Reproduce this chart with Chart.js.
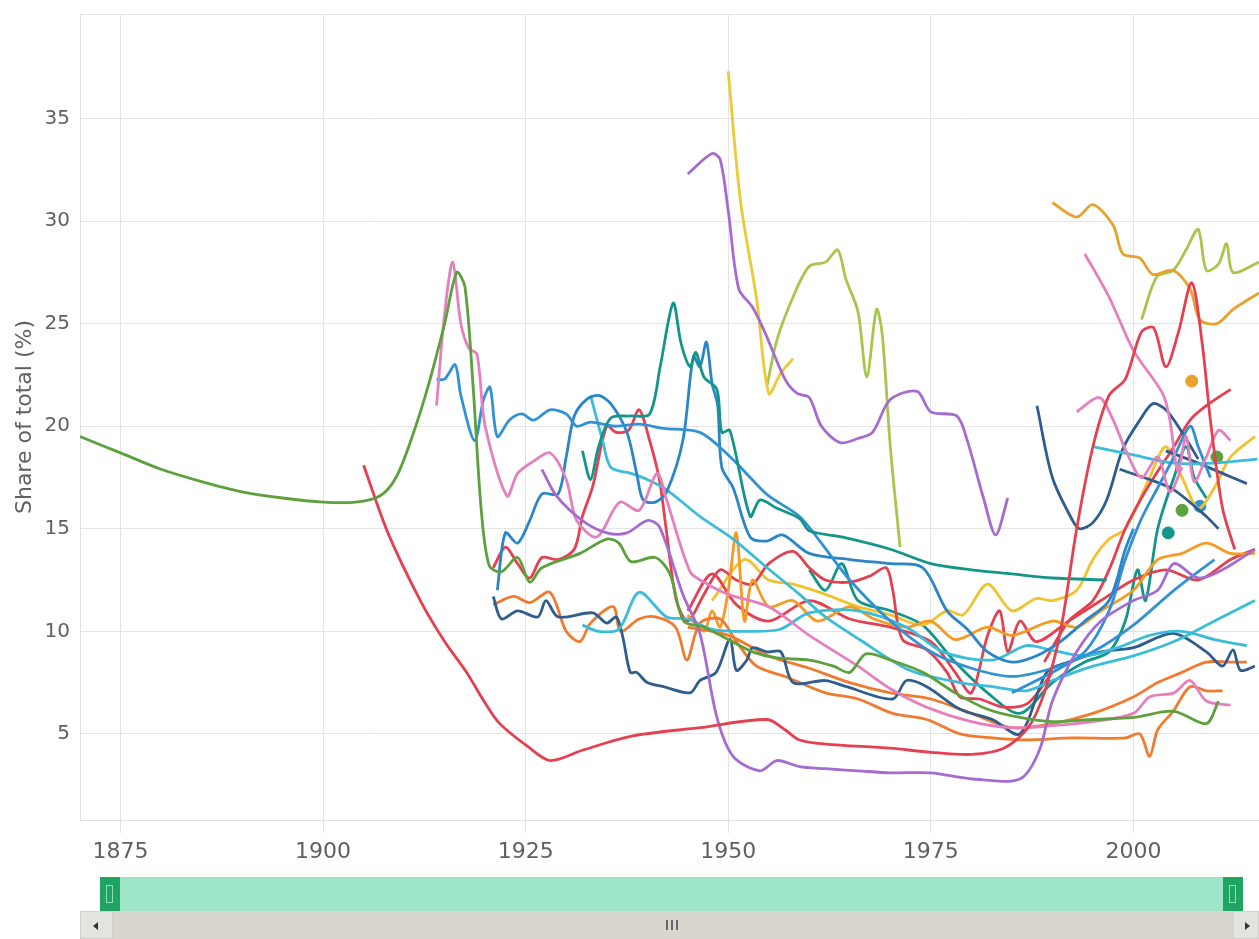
<!DOCTYPE html>
<html>
<head>
<meta charset="utf-8">
<script src="https://cdn.jsdelivr.net/npm/chart.js@4.4.1/dist/chart.umd.min.js"></script>
<style>
  body { margin: 0; background: #fff; font-family: "DejaVu Sans", sans-serif; }
  #wrap { position: relative; width: 1259px; height: 939px; overflow: hidden; }
  #box { position: absolute; left: 0; top: 0; width: 1259px; height: 870px; }
  .nav { position: absolute; left: 100px; top: 877px; width: 1143px; height: 34px; background: #9fe5c7; }
  .handle { position: absolute; top: 877px; width: 20px; height: 34px; background: #1fa462; }
  .handle span { position: absolute; left: 6px; top: 8px; width: 7px; height: 18px; border: 1px solid #8fe0b8; box-sizing: border-box; }
  .track { position: absolute; left: 80px; top: 911px; width: 1179px; height: 28px; background: #d8d6ce; }
  .btn { position: absolute; top: 911px; height: 28px; background: #e3e3df; border: 1px solid #cfcfcb; box-sizing: border-box; }
  .btn i { position: absolute; top: 10px; width: 0; height: 0; border-top: 4px solid transparent; border-bottom: 4px solid transparent; }
  .grip { position: absolute; left: 666px; top: 920px; width: 12px; height: 10px; }
  .grip b { position: absolute; top: 0; width: 2px; height: 10px; background: #666; }
</style>
</head>
<body>
<div id="wrap">
  <div id="box"><canvas id="myChart" width="1259" height="870"></canvas></div>
  <div class="nav"></div>
  <div class="handle" style="left:100px"><span></span></div>
  <div class="handle" style="left:1223px"><span></span></div>
  <div class="track"></div>
  <div class="btn" style="left:80px;width:33px"><i style="left:12px;border-right:5px solid #333"></i></div>
  <div class="btn" style="left:1233px;width:26px"><i style="left:11px;border-left:5px solid #333"></i></div>
  <div class="grip"><b style="left:0"></b><b style="left:5px"></b><b style="left:10px"></b></div>
</div>
<script>
// year / share pairs
var green1 = [[1870,19.5],[1875,18.7],[1880,17.9],[1885,17.3],[1890,16.8],[1895,16.5],[1900,16.3],[1904,16.3],[1907,16.6],[1909,17.5],[1911,19.5],[1913,22],[1915,25],[1916.5,27.5],[1917.5,26.8],[1918.5,22],[1919.5,16],[1920.5,13.2],[1922,12.9],[1924,13.6],[1925.5,12.4],[1927,13.1],[1931.7,13.8],[1935,14.5],[1936.5,14.3],[1938,13.4],[1941,13.6],[1942.8,12.8],[1944.5,10.5],[1947,10.2],[1950,9.6],[1953,9.0],[1956,8.7],[1960,8.6],[1963,8.3],[1965,8.0],[1967,8.9],[1970,8.6],[1974,8.0],[1978,7.0],[1982,6.2],[1986,5.8],[1990,5.6],[1995,5.7],[2000,5.8],[2005,6.1],[2009,5.5],[2010.5,6.6]];
var red1 = [[1905,18.1],[1908,14.8],[1912,11.5],[1915,9.5],[1917.7,8.0],[1920,6.5],[1921.8,5.5],[1925.2,4.4],[1928,3.7],[1932,4.2],[1938.2,4.9],[1946.5,5.3],[1954.8,5.7],[1957,5.2],[1958.8,4.7],[1962,4.5],[1970,4.3],[1975,4.1],[1980,4.0],[1984,4.3],[1987,5.3],[1989,7],[1991,10],[1993,15],[1995,19],[1997,21.5],[1999,22.3],[2001,24.6],[2002.5,24.8],[2004,22.9],[2005.5,24.5],[2007.2,27],[2008.5,24],[2009.5,20.3],[2011,16],[2012.5,14]];
var purple1 = [[1945,32.3],[1948,33.3],[1949,33.0],[1950,30.5],[1951.3,26.7],[1953,25.8],[1954.5,24.6],[1957,22.3],[1958.5,21.6],[1960,21.4],[1961.5,20],[1963.8,19.2],[1966,19.4],[1967.8,19.7],[1970,21.3],[1973.3,21.7],[1975,20.7],[1978.2,20.5],[1979.5,19.3],[1981.5,16.5],[1983,14.7],[1984.5,16.5]];
var purple2 = [[1927,17.9],[1928.8,16.6],[1932,15.4],[1935,14.8],[1937.5,14.8],[1940,15.4],[1941.5,15.1],[1944.4,11.8],[1946.5,9.9],[1948.6,5.8],[1950.6,3.9],[1953.9,3.2],[1956,3.7],[1958.8,3.4],[1962,3.3],[1966,3.2],[1970,3.1],[1975,3.1],[1980.2,2.8],[1986,2.8],[1988.4,4.2],[1990,6.6],[1993,9],[1996,10.5],[2000,11.5],[2003,12],[2005,13.3],[2008,12.6],[2011,13],[2015,14]];
var yellow1 = [[1950,37.3],[1951.5,31],[1953.5,26.2],[1955,21.6],[1956.5,22.6],[1958,23.3]];
var lime1 = [[1954.8,22],[1956,24.2],[1958,26.3],[1960,27.8],[1962,28],[1963.5,28.6],[1964.5,27.2],[1966,25.6],[1967.1,22.4],[1968.3,25.7],[1969,24.5],[1970,19],[1971.2,14.1]];
var gold1 = [[1990,30.9],[1993,30.2],[1995,30.8],[1997.5,29.8],[1998.7,28.4],[2000.8,28.2],[2002.4,27.4],[2004.9,27.6],[2007,26.7],[2008.2,25.2],[2010.3,25],[2012.3,25.7],[2015.5,26.5]];
var lime2 = [[2001,25.2],[2002.9,27.3],[2004.9,27.6],[2006.5,28.6],[2008,29.6],[2009,27.6],[2010.5,27.9],[2011.5,28.9],[2012.3,27.5],[2015.5,28]];
var pink1 = [[1914,21],[1915,25.5],[1916,28],[1917,25],[1918,23.8],[1919,23.5],[1920,20],[1922.7,16.6],[1924,17.7],[1926,18.3],[1928,18.7],[1930,17.4],[1931.3,15.4],[1933.8,14.6],[1936.6,16.3],[1939,15.9],[1941.2,17.7],[1942.4,16.4],[1945.3,12.9],[1947,12.4],[1950,11.8],[1955,11.2],[1960,9.8],[1966,8.3],[1970,7.2],[1974.5,6.3],[1980,5.6],[1985,5.3],[1990,5.4],[1995,5.6],[2000,6.0],[2002,6.8],[2005,7.0],[2007,7.6],[2009,6.6],[2012,6.4]];
var pink2 = [[1994,28.4],[1997,26.3],[2000,23.7],[2003.6,21.6],[2004.5,20.3],[2005.5,17.8],[2006.5,19.5],[2007.5,17.3],[2009,18.5],[2010.5,19.8],[2012,19.3]];
var pink3 = [[1993,20.7],[1995.8,21.4],[1997.5,20.3],[1999.2,18.7],[2001,17.5],[2003,18.5],[2004.5,16.8],[2006,18]];
var teal1 = [[1932,18.8],[1933,17.4],[1934,19],[1935.5,20.4],[1938,20.5],[1940.3,20.6],[1941.6,22.9],[1943.2,26],[1944.2,24],[1945.3,22.9],[1946,23.6],[1947,22.4],[1948.6,21.8],[1949.2,19.7],[1950.2,19.8],[1952.7,15.6],[1953.9,16.4],[1956,16.0],[1958.8,15.5],[1960,14.9],[1964,14.6],[1970,14],[1975,13.3],[1980,13.0],[1985,12.8],[1990,12.6],[1996.7,12.5]];
var blue1 = [[1914,22.3],[1915,22.3],[1916.3,23],[1917,21.5],[1918.7,19.3],[1919.8,21.3],[1920.6,21.9],[1921.5,19.5],[1923,20.3],[1924.5,20.6],[1926,20.3],[1928,20.8],[1930,20.6],[1931.3,20],[1933,20.2],[1936,20.0],[1939,20.1],[1942,19.9],[1946.5,19.7],[1950,18.6],[1952.7,17.5],[1955,16.6],[1958.8,15.6],[1961.3,14.4],[1965,12.5],[1970,10.5],[1975,9],[1980,8.2],[1985,7.8],[1990,8.2],[1995,9.0],[2000,10.3],[2005,12],[2010,13.5]];
var blue2 = [[1921.5,12],[1922.5,14.8],[1924,14.3],[1925.5,15.4],[1927,16.7],[1929,16.7],[1930,18.5],[1931,20.5],[1932.5,21.3],[1934,21.5],[1935.5,21.1],[1937.5,19.7],[1938.7,17.7],[1939.5,16.4],[1941,16.3],[1942.4,16.8],[1944.4,19.3],[1945.7,23.4],[1946.5,22.9],[1947.3,24.1],[1948,22.1],[1948.7,21],[1949.2,18],[1950.6,17],[1952.7,14.6],[1954.7,14.4],[1956.7,14.7],[1960,13.8],[1965,13.5],[1970,13.3],[1974,13.1],[1977,11],[1979.5,10.1],[1982,9],[1985,8.5],[1988,8.8],[1991,9.5],[1994,10.5],[1997,11.5],[1999,14],[2000,15]];
var blue3 = [[1985,7],[1990,8],[1994,9],[1997,11],[1999,13.5],[2001,15.5],[2003,17],[2005,18.5],[2007,20],[2008,19],[2009.5,17.5]];
var cyan1 = [[1933,21.5],[1934.5,19.3],[1935.5,18],[1938,17.7],[1940,17.4],[1942.4,16.9],[1946.5,15.6],[1950.6,14.5],[1954.8,13.1],[1958.8,11.8],[1962,10.7],[1966.2,9.6],[1972.4,8.1],[1978.6,7.5],[1982.6,7.3],[1986.8,7.1],[1990,7.6],[1995,8.3],[2000,8.8],[2005,9.5],[2010,10.5],[2015,11.5]];
var cyan2 = [[1932,10.3],[1934,10],[1936.5,10.1],[1939,11.9],[1942.4,10.7],[1945,10.6],[1948,10.1],[1952.3,10],[1956.4,10.1],[1960,10.9],[1966,11],[1972,10.2],[1976.5,9.0],[1982.6,8.6],[1986.8,9.3],[1989.7,9.1],[1994,8.8],[1998,9.2],[2002,9.8],[2006,10],[2010,9.6],[2014,9.3]];
var cyan3 = [[1995,19],[2000,18.6],[2005,18.2],[2010,18.2],[2015.3,18.4]];
var darkblue1 = [[1921,11.7],[1922,10.6],[1924,11],[1926.5,10.7],[1927.5,11.5],[1929,10.7],[1933.3,10.9],[1935,10.4],[1936.2,10.7],[1937,9.7],[1937.9,8.0],[1938.7,8.0],[1940,7.5],[1942,7.3],[1945.3,7.0],[1946.5,7.6],[1948.5,8.0],[1950.2,9.6],[1951,8.1],[1952.3,8.6],[1953,9.2],[1954.8,9.0],[1956.5,9.0],[1958,7.5],[1962,7.6],[1964.6,7.3],[1970.3,6.7],[1972,7.6],[1974.5,7.3],[1978.6,6.2],[1982.6,5.7],[1986,5.0],[1989.3,8.0],[1992,8.5],[1996,9.0],[2000,9.2],[2004.9,9.9],[2009,9.0],[2011,8.3],[2012.3,9.1],[2013.2,8.1],[2015,8.3]];
var darkblue2 = [[1988.1,21],[1990,17.5],[1992.5,15.4],[1993.4,15.0],[1995,15.3],[1996.7,16.4],[1998.7,18.9],[2000.8,20.3],[2002.4,21.1],[2004,20.8],[2006,19.7],[2008,18.4]];
var darkblue3 = [[1998.3,17.9],[2002,17.4],[2005,16.9],[2009,15.6],[2010.5,15]];
var darkblue4 = [[2004,18.8],[2008,18.2],[2011,17.7],[2014,17.2]];
var orange1 = [[1921,11.3],[1923.5,11.7],[1925.5,11.4],[1928,11.9],[1930,10],[1931.7,9.5],[1933,10.4],[1935.8,11.2],[1936.7,10],[1939,10.6],[1941,10.7],[1943.5,10.2],[1944.9,8.6],[1946.5,10.4],[1949,10.6],[1951,9.5],[1953.5,8.3],[1957,7.8],[1962,7.0],[1966,6.7],[1970.3,6.0],[1974.5,5.7],[1978.6,5.0],[1982.6,4.8],[1986.8,4.7],[1992.5,4.8],[1999,4.8],[2000.8,5.0],[2002,3.9],[2003,5.2],[2004.9,6.1],[2007,7.3],[2009,7.1],[2011,7.1]];
var orange2 = [[1945,10.2],[1950,9.8],[1955,8.8],[1960,8.2],[1965,7.5],[1970,7.0],[1975,6.7],[1980,6.0],[1985,5.3],[1990,5.5],[1995,6.0],[2000,6.8],[2003,7.5],[2006,8.0],[2009,8.5],[2012,8.5],[2014,8.5]];
var orange3 = [[1945,10.8],[1947,10.0],[1948,11],[1949,10.2],[1950,12],[1951,14.8],[1952,10.5],[1953,12.5],[1955,11.2],[1958,11.5],[1961,10.5],[1965,11.2],[1968,10.6],[1972,10.2],[1975,10.5],[1978,9.6],[1982,10.2],[1985,9.8],[1990,10.5],[1993,10.2],[1996,11],[2000,12],[2003,13.5],[2006,13.8],[2009,14.3],[2012,13.8],[2015,13.8]];
var red2 = [[1921,13.1],[1922.5,14.1],[1924,13.3],[1925.5,12.6],[1927,13.6],[1929,13.5],[1931,14.0],[1932,15.6],[1933.3,17.1],[1935,20],[1936.2,19.7],[1937.7,19.8],[1939,20.8],[1940.3,19.3],[1941.5,17.4],[1942.4,14.8],[1943.6,11.5],[1945,10.5],[1947,11.8],[1949,13],[1951,12.5],[1953,12.3],[1955,13.3],[1958,13.9],[1960,13.1],[1962,12.5],[1965,12.4],[1967.5,12.7],[1969.5,13.1],[1970.3,12],[1971.5,9.6],[1974.5,9.1],[1977,8.0],[1978.6,6.8],[1981,6.7],[1984,6.3],[1987,6.5],[1990,8]];
var red3 = [[1989,8.5],[1992,10.5],[1995,11.5],[1997,13],[1999,15],[2001,16.5],[2003,17.8],[2005,19],[2007,20.3],[2009,21],[2012,21.8]];
var red4 = [[1945,11],[1948,12.8],[1951,11.3],[1955,10.5],[1960,11.5],[1965,10.6],[1970,10.2],[1975,9.5],[1978,8],[1980,7],[1982,9.8],[1983.5,11],[1984.5,9],[1986,10.5],[1988,9.5],[1992,10.5],[1996,11.5],[2000,12.5],[2004,13],[2008,12.5],[2012,13.5],[2015,14]];
var yellow2 = [[1948,11.5],[1952,13.5],[1955,12.5],[1958,12.3],[1962,11.8],[1966,11.2],[1970,10.8],[1974,10.3],[1977,11],[1979,10.8],[1982,12.3],[1985,11],[1988,11.6],[1990,11.5],[1993,12],[1995,13.5],[1997,14.5],[1999,15],[2002,17.5],[2004,19],[2006,17.5],[2008,16],[2010,17],[2012,18.5],[2015,19.5]];
var teal2 = [[1960,13],[1962,12],[1964,13.3],[1966,11.5],[1970,11],[1974,10.3],[1978,8.5],[1982,7],[1986,6],[1990,7.5],[1994,8.5],[1997,9],[1999,10.5],[2000.5,13],[2001.5,11.5],[2003,15],[2005,17.5],[2006.5,19],[2007.5,17.5],[2009,16.5]];
var dots = [[2007.2,22.2],[2010.3,18.5],[2006,15.9],[2008.2,16.1],[2004.3,14.8]];

var lines = [green1, red1, purple1, purple2, yellow1, lime1, gold1, lime2, pink1, pink2, pink3, teal1, blue1, blue2, blue3,
  cyan1, cyan2, cyan3, darkblue1, darkblue2, darkblue3, darkblue4, orange1, orange2, orange3, red2, red3, red4, yellow2, teal2];
var colors = ['#5ca13d', '#e5404f', '#a56bd1', '#a56bd1', '#ecc935', '#a7c64b', '#e8a12a', '#a7c64b', '#e57fbd', '#e57fbd', '#e57fbd', '#14958a', '#3092d3', '#2b86c9', '#2f8fd8',
  '#3bbcd8', '#3bbcd8', '#3bbcd8', '#2e5d8e', '#2e5d8e', '#2e5d8e', '#2e5d8e', '#f07a2d', '#f07a2d', '#f59a23', '#e5404f', '#e5404f', '#e5404f', '#f2c12e', '#14958a'];
var dotColors = ['#e8a12a', '#5ca13d', '#5ca13d', '#3092d3', '#14958a'];
var yearTicks = [1875, 1900, 1925, 1950, 1975, 2000];
var shareTicks = [5, 10, 15, 20, 25, 30, 35];

var datasets = lines.map(function (s, i) {
    return {
        data: s.map(function (p) { return { x: p[0], y: p[1] }; }),
        borderColor: colors[i],
        borderWidth: 2.8,
        pointRadius: 0,
        tension: 0.3,
        fill: false
    };
});
dots.forEach(function (p, i) {
    datasets.push({
        data: [{ x: p[0], y: p[1] }],
        showLine: false,
        pointRadius: 6,
        pointBackgroundColor: dotColors[i],
        pointBorderColor: dotColors[i]
    });
});

var ctx = document.getElementById('myChart');
var myChart = new Chart(ctx, {
    type: 'line',
    data: { datasets: datasets },
    options: {
        responsive: false,
        animation: false,
        layout: { autoPadding: false, padding: { top: 14, left: 0, right: 0, bottom: 0 } },
        plugins: { legend: { display: false }, tooltip: { enabled: false } },
        scales: {
            x: {
                type: 'linear',
                min: 1870,
                max: 2015.5,
                afterBuildTicks: function (s) { s.ticks = yearTicks.map(function (v) { return { value: v }; }); },
                afterFit: function (s) { s.height = 50; s.paddingLeft = 0; s.paddingRight = 0; },
                grid: { color: '#e4e4e4', tickLength: 13, tickColor: '#e4e4e4' },
                border: { color: '#e0e0e0' },
                ticks: { color: '#606060', font: { family: 'DejaVu Sans', size: 22 }, padding: 6, maxRotation: 0, callback: function (v) { return String(v); } }
            },
            xTop: {
                type: 'linear',
                position: 'top',
                min: 1870,
                max: 2015.5,
                afterFit: function (s) { s.height = 0; s.paddingLeft = 0; s.paddingRight = 0; },
                ticks: { display: false },
                grid: { display: false },
                border: { display: true, color: '#e4e4e4' }
            },
            y: {
                min: 0.8,
                max: 40.1,
                afterBuildTicks: function (s) { s.ticks = shareTicks.map(function (v) { return { value: v }; }); },
                afterFit: function (s) { s.width = 80; s.paddingTop = 0; s.paddingBottom = 0; },
                grid: { color: '#e4e4e4', drawTicks: false },
                border: { color: '#e0e0e0' },
                ticks: { color: '#606060', font: { family: 'DejaVu Sans', size: 20 }, padding: 10 },
                title: { display: true, text: 'Share of total (%)', color: '#606060', font: { family: 'DejaVu Sans', size: 22 }, padding: { top: 12, bottom: 0 } }
            }
        }
    }
});
</script>
</body>
</html>
